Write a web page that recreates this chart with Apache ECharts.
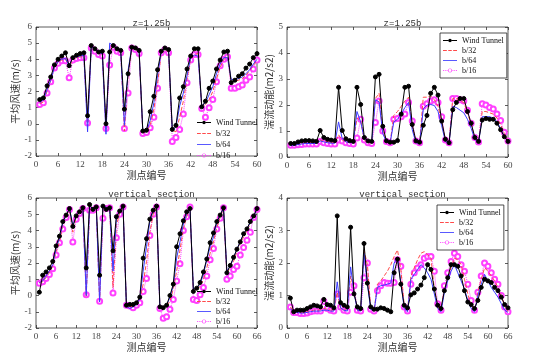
<!DOCTYPE html>
<html><head><meta charset="utf-8">
<script src="https://cdn.jsdelivr.net/npm/echarts@6/dist/echarts.min.js"></script>
<style>html,body{margin:0;padding:0;background:#fff}#c{width:554px;height:363px}</style>
</head><body><div id="c"></div>
<script>
// ---------- data ----------
const seriesNames = ['Wind Tunnel', 'b/32', 'b/64', 'b/16'];
const panelTitles = ['z=1.25b', 'z=1.25b', 'vertical section', 'vertical section'];
const xName = '测点编号';
const yNames = ['平均风速(m/s)', '湍流动能(m2/s2)', '平均风速(m/s)', '湍流动能(m2/s2)'];

// Panel 1: z=1.25b mean velocity (points 1..60)
const p1_wt  = [1.5,1.6,2.35,2.9,3.65,4.0,4.2,4.4,3.6,4.1,4.25,4.35,4.4,0.5,4.85,4.65,4.45,4.5,0.0,4.45,4.85,4.65,4.55,0.9,3.1,4.75,4.7,4.55,-0.45,-0.4,0.75,1.7,3.35,4.5,4.7,4.6,-0.35,-0.1,1.6,2.3,3.4,4.2,4.65,4.65,1.05,1.4,2.2,2.65,3.4,3.95,4.45,4.5,2.55,2.7,2.95,3.1,3.45,3.7,4.1,4.35];
const p1_b32 = [1.25,1.35,2.0,2.7,3.45,3.8,3.95,4.0,3.5,4.0,4.1,4.15,4.15,0.05,4.75,4.55,4.35,4.3,-0.35,4.6,4.8,4.55,4.45,-0.45,3.0,4.7,4.6,4.4,-0.55,-0.5,-0.1,0.9,2.5,4.4,4.6,4.45,-0.4,-0.5,0.4,1.4,2.8,4.0,4.3,4.35,1.0,1.2,1.5,2.0,2.8,3.5,4.0,4.1,2.6,2.65,2.7,2.8,3.0,3.3,3.6,3.95];
const p1_b64 = [1.3,1.5,2.1,2.7,3.5,3.85,4.0,4.05,3.6,4.1,4.15,4.2,4.25,-0.5,4.8,4.6,4.4,4.35,-0.65,5.0,4.85,4.6,4.5,-0.1,3.3,4.75,4.65,4.45,-0.5,-0.5,0.2,1.3,3.0,4.45,4.65,4.5,-0.45,-0.2,1.1,1.9,3.0,4.1,4.25,4.2,1.1,1.3,1.8,2.3,3.1,3.7,4.1,4.1,2.75,2.75,2.8,2.9,3.1,3.35,3.7,4.0];
const p1_b16 = [1.2,1.3,1.9,2.6,3.45,3.75,3.9,3.9,2.85,3.95,4.05,4.1,4.1,0.05,4.7,4.5,4.3,4.2,-0.3,3.65,4.75,4.5,4.4,-0.3,1.9,4.7,4.6,4.35,-0.6,-0.55,-0.25,0.4,2.2,4.4,4.6,4.4,-1.1,-0.85,-0.35,0.6,2.55,3.95,4.3,4.3,0.95,0.4,1.0,1.5,2.6,3.6,4.0,4.15,2.2,2.2,2.3,2.4,2.7,2.9,3.4,3.95];

// Panel 2: z=1.25b turbulent kinetic energy (points 1..60)
const p2_wt  = [0.52,0.52,0.58,0.62,0.63,0.63,0.62,0.6,1.02,0.75,0.68,0.65,0.63,2.68,1.02,0.7,0.63,0.6,2.68,2.02,0.75,0.62,0.6,3.08,3.18,1.18,0.62,0.57,0.57,0.63,1.65,2.68,2.72,1.25,0.62,0.57,1.22,1.6,2.45,2.68,2.38,1.38,0.68,0.55,1.82,2.1,2.25,2.25,1.75,1.3,0.75,0.6,1.42,1.48,1.45,1.45,1.3,1.05,0.78,0.6];
const p2_b32 = [0.47,0.47,0.5,0.52,0.55,0.55,0.55,0.55,0.65,0.6,0.58,0.55,0.55,0.85,0.65,0.58,0.55,0.55,1.5,1.4,0.65,0.55,0.55,2.25,2.45,1.0,0.6,0.55,1.6,1.75,1.95,2.15,2.3,1.2,0.6,0.55,2.3,2.3,2.35,2.2,1.95,1.35,0.65,0.55,2.25,2.25,2.15,2.1,1.7,1.25,0.72,0.58,1.75,1.75,1.7,1.65,1.5,1.25,0.9,0.62];
const p2_b64 = [0.45,0.45,0.48,0.5,0.52,0.52,0.52,0.52,0.62,0.58,0.55,0.53,0.53,1.35,0.7,0.58,0.55,0.55,1.75,1.35,0.7,0.58,0.55,2.2,2.12,0.9,0.58,0.55,1.35,1.45,1.65,1.9,2.1,1.05,0.55,0.52,1.85,2.0,2.02,1.98,1.75,1.2,0.6,0.52,1.95,1.9,1.8,1.7,1.45,1.1,0.68,0.55,1.55,1.55,1.55,1.5,1.35,1.1,0.8,0.58];
const p2_b16 = [0.45,0.45,0.47,0.48,0.5,0.5,0.5,0.5,0.6,0.55,0.52,0.5,0.5,0.65,0.62,0.55,0.52,0.5,0.73,1.45,0.65,0.55,0.52,1.33,2.15,1.0,0.6,0.55,1.45,1.48,1.55,1.65,2.1,1.38,0.62,0.55,1.95,2.05,2.15,2.2,2.1,1.55,0.65,0.55,2.25,2.25,2.2,2.15,1.8,1.3,0.75,0.58,2.05,2.0,1.9,1.85,1.65,1.4,0.95,0.62];

// Panel 3: vertical section mean velocity (points 1..66)
const p3_wt  = [0.2,1.25,1.45,1.7,2.1,3.05,3.65,4.55,4.95,5.35,4.25,4.9,5.15,5.4,1.7,5.6,5.3,5.45,1.25,5.5,5.3,5.4,2.75,4.85,5.2,5.5,-0.6,-0.55,-0.55,-0.45,-0.1,2.3,3.5,4.7,5.25,5.5,-0.7,-0.75,-0.6,0.0,0.7,3.0,3.8,4.6,5.15,5.35,0.25,0.45,0.8,1.45,2.25,3.25,3.85,4.55,4.95,5.4,1.4,1.85,2.35,2.85,3.3,3.8,4.1,4.55,4.9,5.35];
const p3_b32 = [0.8,0.85,1.1,1.4,1.8,2.7,3.3,4.3,4.85,5.3,3.9,4.85,5.1,5.4,-0.1,5.3,5.3,5.4,-0.35,5.35,5.35,5.4,0.5,4.3,5.1,5.45,-0.65,-0.7,-0.65,-0.55,-0.3,0.7,2.1,3.9,5.0,5.45,-0.75,-0.8,-0.65,-0.35,0.4,1.5,2.8,4.1,4.85,5.35,0.3,0.4,0.55,1.0,1.7,2.6,3.3,4.2,4.8,5.35,1.4,1.7,2.1,2.7,3.2,3.6,4.0,4.4,4.85,5.35];
const p3_b64 = [0.8,0.9,1.2,1.5,1.9,2.9,3.5,4.45,4.95,5.35,4.3,4.9,5.15,5.4,0.0,5.5,5.35,5.45,-0.4,5.6,5.4,5.4,1.5,4.75,5.2,5.5,-0.65,-0.8,-0.7,-0.55,-0.2,1.5,3.0,4.6,5.2,5.5,-0.75,-0.8,-0.6,-0.1,0.6,2.3,3.3,4.4,5.0,5.35,0.4,0.45,0.7,1.3,2.2,3.0,3.6,4.5,4.9,5.4,1.5,1.8,2.3,2.85,3.3,3.8,4.1,4.5,4.85,5.35];
const p3_b16 = [0.75,0.85,1.05,1.3,1.65,2.5,3.25,4.1,4.8,5.3,3.3,4.7,5.05,5.35,0.05,5.25,5.25,5.4,-0.35,4.75,5.35,5.4,0.15,3.55,5.0,5.45,-0.6,-0.65,-0.75,-0.6,-0.45,0.25,1.05,3.7,5.0,5.45,-0.8,-1.4,-1.3,-0.85,-0.25,0.9,1.95,4.0,4.85,5.45,-0.25,-0.3,0.05,0.5,1.2,2.2,2.9,4.1,4.75,5.4,1.0,1.2,1.6,1.8,2.5,2.95,3.4,3.9,4.8,5.3];

// Panel 4: vertical section turbulent kinetic energy (points 1..66)
const p4_wt  = [0.92,0.5,0.55,0.55,0.55,0.6,0.65,0.7,0.68,0.65,0.88,0.72,0.7,0.62,3.45,0.78,0.7,0.65,3.1,1.05,0.65,0.6,2.6,1.38,0.65,0.58,0.58,0.62,0.6,0.55,0.5,1.7,2.12,1.35,0.7,0.62,1.02,1.08,1.2,1.32,1.55,1.95,1.8,1.2,0.7,0.6,1.15,1.55,1.95,1.95,1.9,1.6,1.15,0.8,0.72,0.6,0.85,1.25,1.5,1.45,1.4,1.25,1.15,0.95,0.72,0.62];
const p4_b32 = [0.65,0.5,0.5,0.48,0.48,0.5,0.52,0.55,0.55,0.55,0.6,0.58,0.55,0.55,1.1,0.6,0.55,0.55,1.6,1.2,0.55,0.52,2.4,1.95,0.6,0.52,1.35,1.45,1.6,1.75,1.95,2.2,2.4,1.8,0.7,0.55,1.6,1.85,2.1,2.3,2.35,2.25,2.15,1.2,0.65,0.55,1.2,1.5,1.85,2.15,2.1,1.95,1.5,1.05,0.7,0.55,1.1,1.5,1.85,1.75,1.6,1.45,1.25,1.0,0.7,0.5];
const p4_b64 = [0.6,0.48,0.48,0.46,0.46,0.48,0.5,0.52,0.52,0.52,0.55,0.55,0.52,0.52,1.42,0.62,0.55,0.52,1.88,1.1,0.55,0.52,2.3,1.35,0.58,0.52,1.25,1.3,1.32,1.35,1.38,2.0,2.15,1.4,0.6,0.5,1.5,1.65,1.8,1.95,1.85,1.7,1.5,1.05,0.6,0.5,1.1,1.45,1.75,1.95,1.7,1.45,1.2,0.85,0.6,0.5,1.0,1.35,1.65,1.45,1.25,1.1,0.95,0.75,0.55,0.48];
const p4_b16 = [0.65,0.48,0.48,0.45,0.45,0.46,0.5,0.52,0.52,0.52,0.82,0.6,0.55,0.52,1.05,0.65,0.55,0.52,1.1,1.3,0.55,0.52,1.55,2.0,0.58,0.52,1.15,1.3,1.4,1.38,1.38,1.4,2.1,1.9,0.65,0.52,1.35,1.7,1.85,1.95,2.15,2.2,2.2,1.75,0.75,0.55,1.3,1.7,2.05,2.3,2.2,1.95,1.75,1.35,0.85,0.55,1.1,1.6,2.0,1.9,1.7,1.5,1.35,1.0,0.65,0.5];

// axis ranges
const xMax = [60, 60, 66, 66];
const yMin = [-2, 0, -2, 0];
const yMax = [6, 5, 6, 4];
const panelData = [
  [p1_wt, p1_b32, p1_b64, p1_b16],
  [p2_wt, p2_b32, p2_b64, p2_b16],
  [p3_wt, p3_b32, p3_b64, p3_b16],
  [p4_wt, p4_b32, p4_b64, p4_b16]
];

// ---------- layout / style ----------
const grids = [
  {left: 36, top: 27, width: 221, height: 129},
  {left: 287, top: 27, width: 221, height: 130},
  {left: 36, top: 198, width: 221, height: 130},
  {left: 287, top: 198, width: 221, height: 130}
];
const serif = 'Liberation Serif';
const cjk = 'Noto Sans CJK SC';
const styles = [
  {color: '#000000', type: 'solid', symbol: 'circle', size: 4, width: 1},
  {color: '#ff4a4a', type: 'dashed', symbol: 'none', size: 0, width: 1},
  {color: '#3a3aff', type: 'solid', symbol: 'none', size: 0, width: 1},
  {color: '#ff40ff', type: 'dotted', symbol: 'emptyCircle', size: 5, width: 1}
];
// legend sample glyphs (line + marker), drawn as filled paths
const legendIcons = [
  'path://M0,4.4h7.5v1.2h-7.5z M12.5,4.4h7.5v1.2h-7.5z M7.5,5a2.5,2.5 0 1,0 5,0a2.5,2.5 0 1,0 -5,0z',
  'path://M0,4.4h5.5v1.2h-5.5z M7.5,4.4h5v1.2h-5z M14.5,4.4h5.5v1.2h-5.5z',
  'path://M0,4.4h20v1.2h-20z',
  'path://M0,4.4h1.2v1.2h-1.2z M2.6,4.4h1.2v1.2h-1.2z M5.2,4.4h1.2v1.2h-1.2z M13.6,4.4h1.2v1.2h-1.2z M16.2,4.4h1.2v1.2h-1.2z M18.8,4.4h1.2v1.2h-1.2z M7,5a3,3 0 1,0 6,0a3,3 0 1,0 -6,0z M8,5a2,2 0 1,1 4,0a2,2 0 1,1 -4,0z'
];

const xAxes = [], yAxes = [], series = [], titles = [], legends = [];
grids.forEach((g, i) => {
  const common = {
    axisLine: {show: false, onZero: false},
    axisTick: {show: true, inside: true, length: 3, lineStyle: {color: '#333', width: 0.8}},
    splitLine: {show: false}
  };
  xAxes.push(Object.assign({
    gridIndex: i, type: 'value', min: 0, max: xMax[i], interval: 6, position: 'bottom',
    axisLabel: {fontFamily: serif, fontSize: 9, color: '#444', margin: 4},
    name: xName, nameLocation: 'middle', nameGap: 11,
    nameTextStyle: {fontFamily: cjk, fontSize: 10, color: '#333'}
  }, common));
  xAxes.push(Object.assign({
    gridIndex: i, type: 'value', min: 0, max: xMax[i], interval: 6, position: 'top',
    axisLabel: {show: false}
  }, common));
  yAxes.push(Object.assign({
    gridIndex: i, type: 'value', min: yMin[i], max: yMax[i], interval: 1, position: 'left',
    axisLabel: {fontFamily: serif, fontSize: 9, color: '#444', margin: 4},
    name: yNames[i], nameLocation: 'middle', nameGap: (i % 2 === 0) ? 15 : 12, nameRotate: 90,
    nameTextStyle: {fontFamily: cjk, fontSize: 10, color: '#333'}
  }, common));
  yAxes.push(Object.assign({
    gridIndex: i, type: 'value', min: yMin[i], max: yMax[i], interval: 1, position: 'right',
    axisLabel: {show: false}
  }, common));
  panelData[i].forEach((vals, k) => {
    const st = styles[k];
    series.push({
      type: 'line', name: seriesNames[k], xAxisIndex: 2 * i, yAxisIndex: 2 * i,
      data: vals.map((v, j) => [j + 1, v]),
      symbol: st.symbol, symbolSize: st.size, showSymbol: st.symbol !== 'none',
      lineStyle: {color: st.color, width: st.width, type: st.type},
      itemStyle: {color: st.color, borderColor: st.color, borderWidth: 1},
      emphasis: {disabled: true}, animation: false, z: k === 0 ? 5 : (k === 3 ? 2 : 3)
    });
  });
  titles.push({
    text: panelTitles[i], left: g.left + g.width / 2, top: g.top - 13, textAlign: 'center',
    textStyle: {fontFamily: 'Liberation Mono', fontSize: 9, fontWeight: 'normal', color: '#333'}
  });
});

const legendData = seriesNames.map((n, k) => ({name: n, icon: legendIcons[k],
  itemStyle: {color: styles[k].color, borderWidth: 0, opacity: 1}}));
const legendBase = {
  orient: 'vertical', data: legendData, itemWidth: 14, itemHeight: 6, itemGap: 1,
  itemStyle: {borderWidth: 0}, symbolKeepAspect: true,
  textStyle: {fontFamily: serif, fontSize: 8, lineHeight: 9, color: '#111'},
  selectedMode: false, backgroundColor: 'rgba(255,255,255,0)'
};
legends.push(Object.assign({}, legendBase, {left: 195, top: 116, itemGap: 2, padding: [2, 2, 2, 2]}));
legends.push(Object.assign({}, legendBase, {left: 440, top: 33, padding: [3, 3, 3, 3], borderColor: '#222', borderWidth: 0.8, backgroundColor: '#fff'}));
legends.push(Object.assign({}, legendBase, {left: 195, top: 285, itemGap: 1, padding: [2, 2, 2, 2]}));
legends.push(Object.assign({}, legendBase, {left: 437, top: 205, padding: [3, 3, 3, 3], borderColor: '#222', borderWidth: 0.8, backgroundColor: '#fff'}));

const chart = echarts.init(document.getElementById('c'), null, {renderer: 'canvas'});
chart.setOption({
  animation: false,
  backgroundColor: '#fff',
  title: titles,
  legend: legends,
  grid: grids.map(g => Object.assign({show: true, borderColor: '#333', borderWidth: 0.8, backgroundColor: 'transparent'}, g)),
  xAxis: xAxes,
  yAxis: yAxes,
  series: series
});
</script></body></html>
